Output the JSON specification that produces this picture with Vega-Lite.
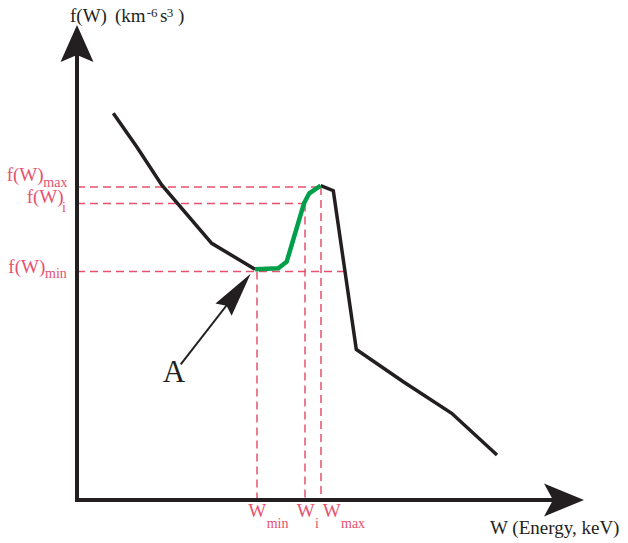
{
  "$schema": "https://vega.github.io/schema/vega-lite/v6.json",
  "width": 628,
  "height": 543,
  "padding": 0,
  "autosize": {"type": "none"},
  "background": "white",
  "config": {"view": {"stroke": null}},
  "datasets": {
    "curve": [
      {"seg": "left", "i": 1, "x": 7.26, "y": 77.34},
      {"seg": "left", "i": 2, "x": 11.94, "y": 70.66},
      {"seg": "left", "i": 3, "x": 16.94, "y": 63.0},
      {"seg": "left", "i": 4, "x": 26.94, "y": 51.34},
      {"seg": "left", "i": 5, "x": 35.6, "y": 46.14},
      {"seg": "mid", "i": 5, "x": 35.6, "y": 46.14},
      {"seg": "mid", "i": 6, "x": 40.26, "y": 46.34},
      {"seg": "mid", "i": 7, "x": 41.94, "y": 47.66},
      {"seg": "mid", "i": 8, "x": 45.4, "y": 59.34},
      {"seg": "mid", "i": 9, "x": 46.46, "y": 61.34},
      {"seg": "mid", "i": 10, "x": 48.74, "y": 62.86},
      {"seg": "right", "i": 10, "x": 48.74, "y": 62.86},
      {"seg": "right", "i": 11, "x": 51.26, "y": 61.86},
      {"seg": "right", "i": 12, "x": 55.86, "y": 30.1},
      {"seg": "right", "i": 13, "x": 65.26, "y": 23.66},
      {"seg": "right", "i": 14, "x": 74.94, "y": 17.34},
      {"seg": "right", "i": 15, "x": 84.0, "y": 9.0}
    ],
    "guides": [
      {"name": "f(W)max", "x": 0, "x2": 48.8, "y": 62.6, "y2": 62.6},
      {"name": "f(W)i", "x": 0, "x2": 45.6, "y": 59.3, "y2": 59.3},
      {"name": "f(W)min", "x": 0, "x2": 53.6, "y": 45.7, "y2": 45.7},
      {"name": "Wmin", "x": 36, "x2": 36, "y": 45.7, "y2": 0},
      {"name": "Wi", "x": 45.6, "x2": 45.6, "y": 59.3, "y2": 0},
      {"name": "Wmax", "x": 48.8, "x2": 48.8, "y": 62.6, "y2": 0}
    ],
    "axes": [
      {"name": "y axis", "x": 0, "x2": 0, "y": -0.4, "y2": 89},
      {"name": "x axis", "x": -0.4, "x2": 96, "y": 0, "y2": 0}
    ],
    "pointer": [
      {"name": "A", "x": 20.74, "y": 27.14, "x2": 32, "y2": 41.6}
    ],
    "heads": [
      {"name": "y", "x": 0, "y": 91},
      {"name": "x", "x": 97.4, "y": 0},
      {"name": "A", "x": 32.02, "y": 41.66}
    ],
    "labels": [
      {"t": "f(W)", "x": -14.06, "y": 63.8, "role": "marker", "k": "main"},
      {"t": "f(W)", "x": -10.06, "y": 59.4, "role": "marker", "k": "main"},
      {"t": "f(W)", "x": -13.74, "y": 45.5, "role": "marker", "k": "main"},
      {"t": "W", "x": 34.26, "y": -3.34, "role": "marker", "k": "main"},
      {"t": "W", "x": 43.94, "y": -3.34, "role": "marker", "k": "main"},
      {"t": "W", "x": 49.14, "y": -3.34, "role": "marker", "k": "main"},
      {"t": "W (Energy, keV)", "x": 82.6, "y": -6.8, "role": "axis", "k": "main"},
      {"t": "f(W)", "x": -1.4, "y": 95.66, "role": "axis", "k": "main"},
      {"t": "(km", "x": 7.6, "y": 95.66, "role": "axis", "k": "main"},
      {"t": "s", "x": 16.6, "y": 95.66, "role": "axis", "k": "main"},
      {"t": ")", "x": 20.2, "y": 95.66, "role": "axis", "k": "main"},
      {"t": "max", "x": -6.74, "y": 62.54, "role": "marker", "k": "sub"},
      {"t": "i", "x": -3, "y": 57.7, "role": "marker", "k": "sub"},
      {"t": "min", "x": -6.4, "y": 44.34, "role": "marker", "k": "sub"},
      {"t": "min", "x": 37.94, "y": -5.66, "role": "marker", "k": "sub"},
      {"t": "i", "x": 47.6, "y": -5.66, "role": "marker", "k": "sub"},
      {"t": "max", "x": 52.8, "y": -5.66, "role": "marker", "k": "sub"},
      {"t": "-6", "x": 13.94, "y": 96.6, "role": "axis", "k": "sup"},
      {"t": "3", "x": 17.94, "y": 96.6, "role": "axis", "k": "sup"},
      {"t": "A", "x": 19.4, "y": 23.6, "role": "axis", "k": "big"}
    ]
  },
  "encoding": {
    "x": {"field": "x", "type": "quantitative", "scale": {"domain": [-15.4, 110.2], "nice": false, "zero": false}, "axis": null},
    "y": {"field": "y", "type": "quantitative", "scale": {"domain": [-8.6, 100], "nice": false, "zero": false}, "axis": null}
  },
  "layer": [
    {
      "data": {"name": "guides"},
      "mark": {"type": "rule", "color": "#e8506e", "strokeWidth": 1.5, "strokeDash": [8, 5]},
      "encoding": {"x2": {"field": "x2"}, "y2": {"field": "y2"}}
    },
    {
      "data": {"name": "curve"},
      "transform": [{"filter": "datum.seg !== 'mid'"}],
      "mark": {"type": "line", "color": "#231f20", "strokeWidth": 3.5},
      "encoding": {"detail": {"field": "seg"}, "order": {"field": "i", "type": "quantitative"}}
    },
    {
      "data": {"name": "curve"},
      "transform": [{"filter": "datum.seg === 'mid'"}],
      "mark": {"type": "line", "color": "#00a04a", "strokeWidth": 4.5},
      "encoding": {"order": {"field": "i", "type": "quantitative"}}
    },
    {
      "data": {"name": "axes"},
      "mark": {"type": "rule", "color": "#231f20", "strokeWidth": 4},
      "encoding": {"x2": {"field": "x2"}, "y2": {"field": "y2"}}
    },
    {
      "data": {"name": "pointer"},
      "mark": {"type": "rule", "color": "#231f20", "strokeWidth": 2},
      "encoding": {"x2": {"field": "x2"}, "y2": {"field": "y2"}}
    },
    {
      "data": {"name": "heads"},
      "transform": [{"filter": "datum.name === 'y'"}],
      "mark": {"type": "point", "filled": true, "color": "#231f20", "opacity": 1, "size": 1600, "shape": "M0,-1 L0.825,0.85 L0,0.5 L-0.825,0.85 Z"}
    },
    {
      "data": {"name": "heads"},
      "transform": [{"filter": "datum.name === 'x'"}],
      "mark": {"type": "point", "filled": true, "color": "#231f20", "opacity": 1, "size": 1600, "shape": "M1,0 L-1,-0.825 L-0.55,0 L-1,0.825 Z"}
    },
    {
      "data": {"name": "heads"},
      "transform": [{"filter": "datum.name === 'A'"}],
      "mark": {"type": "point", "filled": true, "color": "#231f20", "opacity": 1, "size": 2025, "angle": 37, "shape": "M0,-1 L0.45,1 L0,0.78 L-0.45,1 Z"}
    },
    {
      "data": {"name": "labels"},
      "transform": [{"filter": "datum.k === 'main'"}],
      "mark": {"type": "text", "align": "left", "baseline": "alphabetic", "font": "Liberation Serif", "fontSize": 19},
      "encoding": {
        "text": {"field": "t"},
        "color": {"field": "role", "type": "nominal", "scale": {"domain": ["marker", "axis"], "range": ["#e8506e", "#231f20"]}, "legend": null}
      }
    },
    {
      "data": {"name": "labels"},
      "transform": [{"filter": "datum.k === 'sub'"}],
      "mark": {"type": "text", "align": "left", "baseline": "alphabetic", "font": "Liberation Serif", "fontSize": 14},
      "encoding": {
        "text": {"field": "t"},
        "color": {"field": "role", "type": "nominal", "scale": {"domain": ["marker", "axis"], "range": ["#e8506e", "#231f20"]}, "legend": null}
      }
    },
    {
      "data": {"name": "labels"},
      "transform": [{"filter": "datum.k === 'sup'"}],
      "mark": {"type": "text", "align": "left", "baseline": "alphabetic", "font": "Liberation Serif", "fontSize": 13},
      "encoding": {
        "text": {"field": "t"},
        "color": {"field": "role", "type": "nominal", "scale": {"domain": ["marker", "axis"], "range": ["#e8506e", "#231f20"]}, "legend": null}
      }
    },
    {
      "data": {"name": "labels"},
      "transform": [{"filter": "datum.k === 'big'"}],
      "mark": {"type": "text", "align": "center", "baseline": "alphabetic", "font": "Liberation Serif", "fontSize": 31},
      "encoding": {
        "text": {"field": "t"},
        "color": {"field": "role", "type": "nominal", "scale": {"domain": ["marker", "axis"], "range": ["#e8506e", "#231f20"]}, "legend": null}
      }
    }
  ]
}
